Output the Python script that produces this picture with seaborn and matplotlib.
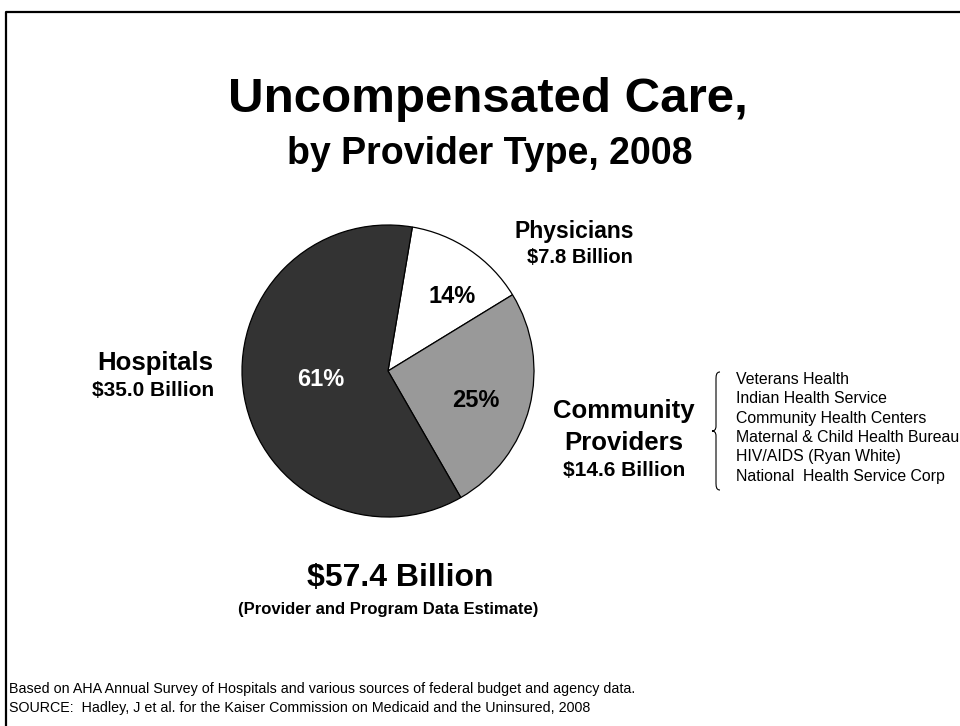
import matplotlib
matplotlib.use("Agg")
import matplotlib.pyplot as plt
import seaborn as sns
from matplotlib.path import Path
from matplotlib.patches import PathPatch
from matplotlib.lines import Line2D

sns.set_theme(style="white")
plt.rcParams["font.family"] = ["Liberation Sans", "DejaVu Sans"]
plt.rcParams["text.color"] = "black"

# Uncompensated care by provider type, 2008 (billions of dollars)
providers = ["Physicians", "Community Providers", "Hospitals"]
billions = [7.8, 14.6, 35.0]
slice_colors = ["#ffffff", "#999999", "#333333"]
pct_text_colors = ["black", "black", "white"]
# anchor of each percentage label, in pie-radius units
pct_anchor = [(0.44, 0.51), (0.60, -0.20), (-0.46, -0.06)]

total_label = "$57.4 Billion"
total_note = "(Provider and Program Data Estimate)"
community_programs = [
    "Veterans Health",
    "Indian Health Service",
    "Community Health Centers",
    "Maternal & Child Health Bureau",
    "HIV/AIDS (Ryan White)",
    "National  Health Service Corp",
]
footnotes = [
    "Based on AHA Annual Survey of Hospitals and various sources of federal budget and agency data.",
    "SOURCE:  Hadley, J et al. for the Kaiser Commission on Medicaid and the Uninsured, 2008",
]

W, H = 960, 726
fig = plt.figure(figsize=(W / 100, H / 100), dpi=100)
fig.patch.set_facecolor("white")


def fx(x):
    return x / W


def fy(y):
    return 1 - y / H


# pie axes: centre (388, 371) px, radius 146 px
cx, cy, r = 388, 371, 146
ax = fig.add_axes([fx(cx - r), fy(cy + r), 2 * r / W, 2 * r / H])
wedges, _, autotexts = ax.pie(
    billions,
    colors=slice_colors,
    startangle=80.4,
    counterclock=False,
    autopct="%1.0f%%",
    wedgeprops=dict(edgecolor="black", linewidth=0.9),
    textprops=dict(fontsize=17, fontweight="bold"),
)
for t, (px, py), c in zip(autotexts, pct_anchor, pct_text_colors):
    t.set_position((px, py))
    t.set_color(c)
ax.set_xlim(-1, 1)
ax.set_ylim(-1, 1)
ax.set_aspect("equal")
ax.axis("off")

# titles
fig.text(fx(488), fy(112), "Uncompensated Care,", ha="center", va="baseline",
         fontsize=35.5, fontweight="bold")
fig.text(fx(490), fy(164), "by Provider Type, 2008", ha="center", va="baseline",
         fontsize=27, fontweight="bold")

# slice labels
fig.text(fx(574), fy(238), "Physicians", ha="center", va="baseline",
         fontsize=16.5, fontweight="bold")
fig.text(fx(580), fy(263), "$7.8 Billion", ha="center", va="baseline",
         fontsize=14.5, fontweight="bold")
fig.text(fx(155), fy(370), "Hospitals", ha="center", va="baseline",
         fontsize=18.5, fontweight="bold")
fig.text(fx(153), fy(396), "$35.0 Billion", ha="center", va="baseline",
         fontsize=15, fontweight="bold")
fig.text(fx(624), fy(418), "Community", ha="center", va="baseline",
         fontsize=18.5, fontweight="bold")
fig.text(fx(624), fy(450), "Providers", ha="center", va="baseline",
         fontsize=18.5, fontweight="bold")
fig.text(fx(624), fy(476), "$14.6 Billion", ha="center", va="baseline",
         fontsize=15, fontweight="bold")

# total
fig.text(fx(400), fy(586), total_label, ha="center", va="baseline",
         fontsize=23, fontweight="bold")
fig.text(fx(388), fy(614), total_note, ha="center", va="baseline",
         fontsize=12, fontweight="bold")

# list of community programmes with a curly brace
for i, name in enumerate(community_programs):
    fig.text(fx(736), fy(384 + i * 19.3), name, ha="left", va="baseline",
             fontsize=11.4)

bx0, bx1, top, bot = 714, 720, 372, 490
mid = (top + bot) / 2
verts = [
    (bx1, top), (bx0 + 2, top), (bx0 + 2, top + 4), (bx0 + 2, top + 8),
    (bx0 + 2, mid - 5),
    (bx0 + 2, mid - 1), (bx0, mid), (bx0 - 2, mid),
    (bx0, mid), (bx0 + 2, mid + 1), (bx0 + 2, mid + 5),
    (bx0 + 2, bot - 8),
    (bx0 + 2, bot - 4), (bx0 + 2, bot), (bx1, bot),
]
codes = [Path.MOVETO, Path.CURVE4, Path.CURVE4, Path.CURVE4,
         Path.LINETO,
         Path.CURVE4, Path.CURVE4, Path.CURVE4,
         Path.CURVE4, Path.CURVE4, Path.CURVE4,
         Path.LINETO,
         Path.CURVE4, Path.CURVE4, Path.CURVE4]
brace = Path([(fx(x), fy(y)) for x, y in verts], codes)
fig.patches.append(PathPatch(brace, transform=fig.transFigure, fill=False,
                             edgecolor="black", linewidth=0.8))

# footnotes
fig.text(fx(9), fy(693), footnotes[0], ha="left", va="baseline", fontsize=10.3)
fig.text(fx(9), fy(712), footnotes[1], ha="left", va="baseline", fontsize=10.3)

# slide frame (open to the right and bottom)
fig.lines.append(Line2D([fx(6), fx(6), fx(W + 10)], [fy(H + 10), fy(12), fy(12)],
                        transform=fig.transFigure, color="black", linewidth=1.6))

fig.savefig("out.png", dpi=100, facecolor="white")
